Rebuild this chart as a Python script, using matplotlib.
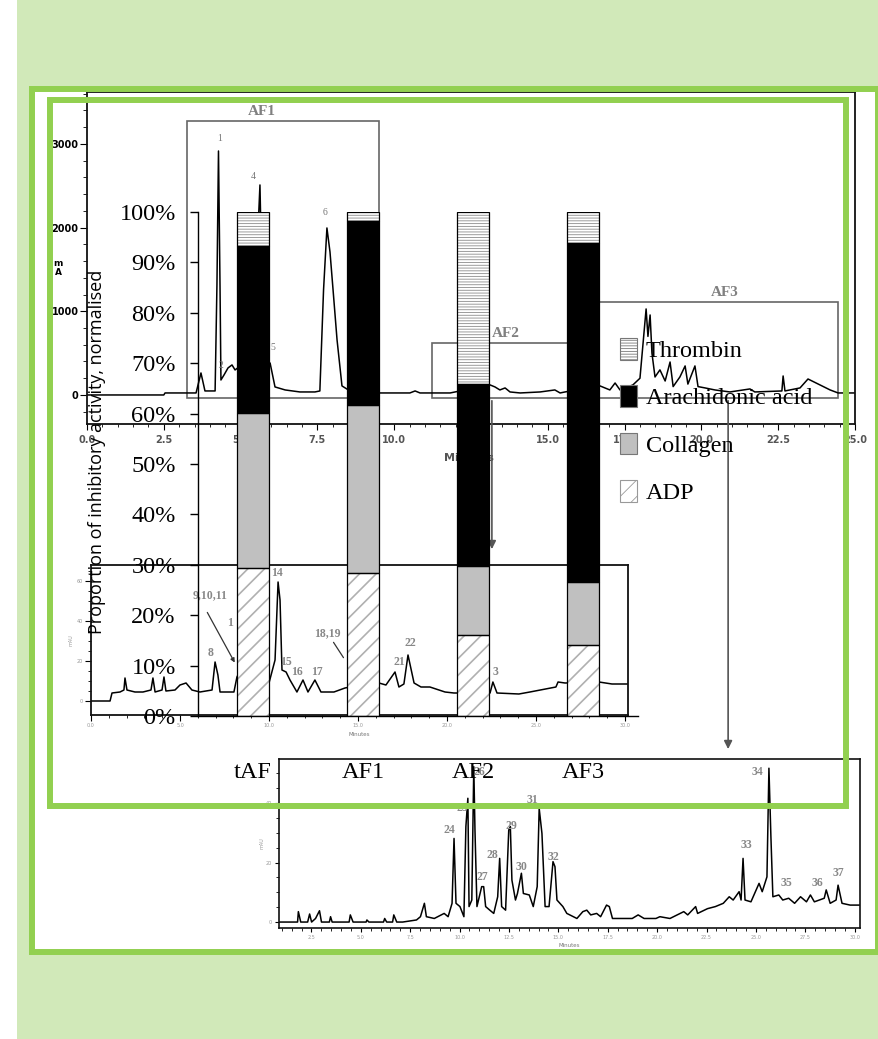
import numpy as np
import matplotlib.pyplot as plt
from matplotlib.patches import Rectangle, Patch

# --- stacked bar data: proportion of inhibitory activity (%) ---
fractions = ['tAF', 'AF1', 'AF2', 'AF3']
adp = [29.4, 28.4, 16.1, 14.1]
collagen = [30.7, 33.3, 13.7, 12.5]
arachidonic = [33.2, 36.5, 36.1, 67.2]
thrombin = [6.7, 1.8, 34.1, 6.2]
pct_ticks = [0, 10, 20, 30, 40, 50, 60, 70, 80, 90, 100]

# --- chromatogram of total fraction (minutes, mAU) ---
top_t = [0.0, 2.5, 2.54, 3.55, 3.71, 3.84, 4.17, 4.23, 4.28, 4.33, 4.36, 4.46, 4.59, 4.72, 4.82,
         5.0, 5.31, 5.5, 5.63, 5.72, 5.89, 5.96, 6.12, 6.45, 6.93, 7.42, 7.58, 7.70, 7.81, 7.91,
         8.01, 8.14, 8.30, 8.56, 9.54, 10.51, 10.68, 10.84, 11.17, 11.82, 13.12, 13.28, 13.44,
         13.61, 13.77, 14.10, 14.75, 15.23, 15.40, 15.56, 16.70, 17.02, 17.19, 17.35, 17.77,
         18.00, 18.20, 18.26, 18.33, 18.39, 18.49, 18.65, 18.82, 18.98, 19.08, 19.30, 19.47,
         19.56, 19.79, 19.89, 20.12, 20.44, 20.93, 21.58, 21.74, 22.62, 22.66, 22.72, 23.21,
         23.47, 23.86, 24.19, 24.45, 25.0]
top_mau = [0, 0, 24, 24, 263, 48, 48, 1315, 2916, 1300, 179, 239, 323, 359, 299,
           350, 600, 1400, 2510, 900, 300, 382, 96, 60, 36, 36, 48, 1255, 1996, 1709,
           1255, 657, 108, 48, 24, 24, 48, 24, 24, 24, 120, 96, 60,
           84, 36, 24, 36, 60, 24, 36, 108, 60, 143, 60, 120,
           200, 1028, 700, 956, 500, 215, 300, 167, 394, 100, 215, 347,
           130, 347, 100, 84, 60, 36, 72, 36, 48, 227, 48, 84,
           191, 120, 60, 24, 24]
top_xticks = [0, 2.5, 5, 7.5, 10, 12.5, 15, 17.5, 20, 22.5, 25]
top_xlabels = ['0.0', '2.5', '5.0', '7.5', '10.0', '12.5', '15.0', '17.5', '20.0', '22.5', '25.0']
top_peaks = [('1', 4.33, 3071), ('4', 5.40, 2617), ('6', 7.75, 2175), ('5', 6.05, 562), ('2', 4.36, 358)]
# collected fraction windows: (name, start, end, height, label x)
windows = [('AF1', 3.26, 9.51, 3274, 5.70), ('AF2', 11.23, 16.37, 621, 13.64),
           ('AF3', 16.37, 24.45, 1111, 20.77)]

# --- chromatogram of AF2 ---
mid_t = [0, 1.07, 1.18, 1.63, 1.85, 1.91, 2.02, 2.47, 2.92, 3.37, 3.48, 3.60, 3.99, 4.10, 4.21,
         4.72, 5.0, 5.34, 5.67, 6.12, 6.80, 6.97, 7.13, 7.25, 8.03, 8.20, 8.65, 9.38, 10.0,
         10.34, 10.51, 10.62, 10.73, 10.96, 11.18, 11.57, 11.91, 12.19, 12.58, 12.92, 13.65,
         14.27, 15.11, 16.18, 16.57, 17.08, 17.30, 17.58, 17.81, 18.15, 18.54, 19.04, 19.89,
         20.39, 22.42, 22.58, 22.81, 24.04, 24.66, 26.12, 26.24, 26.63, 28.54, 29.27, 30.17]
mid_mau = [0, 0, 4, 4.5, 5.5, 11.5, 5.5, 4.5, 4.5, 5.5, 11.5, 4.5, 5.5, 12, 5,
           5.5, 8, 9, 5.5, 4.5, 5.5, 19.5, 13, 4.5, 4.5, 12, 20, 15, 9,
           20.5, 59.5, 50.5, 15.5, 14.5, 10.5, 4.5, 10.5, 4.5, 10.5, 4.5, 4.5,
           6.5, 8, 9, 8, 14.5, 7, 8.5, 23, 9, 7, 7, 4.5,
           4, 4, 9.5, 4, 3.5, 4.5, 7, 9.5, 9, 9.5, 8.5, 8.5]
mid_peaks = [('8', 6.69, 24), ('9,10,11', 6.69, 53), ('1', 7.81, 39), ('14', 10.45, 64),
             ('15', 10.96, 19.5), ('16', 11.57, 14.5), ('17', 12.7, 14.5), ('18,19', 13.26, 34),
             ('21', 17.3, 19.5), ('22', 17.92, 29), ('3', 22.7, 14.5)]

# --- chromatogram of AF3 ---
bot_t = [0.86, 1.80, 1.84, 1.96, 2.31, 2.41, 2.51, 2.71, 2.91, 3.01, 3.41, 3.47, 3.55, 4.41,
         4.47, 4.61, 5.27, 5.31, 5.41, 6.15, 6.21, 6.31, 6.61, 6.67, 6.82, 7.12, 7.82, 8.02,
         8.22, 8.32, 8.72, 9.22, 9.42, 9.62, 9.72, 9.82, 10.02, 10.22, 10.32, 10.42, 10.48,
         10.62, 10.72, 10.78, 10.88, 11.12, 11.22, 11.32, 11.53, 11.73, 11.93, 12.03, 12.13,
         12.33, 12.49, 12.57, 12.65, 12.83, 12.93, 13.13, 13.23, 13.53, 13.73, 13.93, 14.03,
         14.17, 14.33, 14.53, 14.73, 14.83, 14.93, 15.23, 15.43, 15.94, 16.24, 16.44, 16.64,
         16.94, 17.14, 17.44, 17.58, 17.74, 18.74, 19.04, 19.34, 19.94, 20.14, 20.65, 21.35,
         21.55, 21.95, 22.05, 22.55, 22.95, 23.35, 23.65, 23.85, 24.15, 24.25, 24.35, 24.45,
         24.75, 25.16, 25.32, 25.56, 25.66, 25.76, 25.86, 26.16, 26.36, 26.66, 26.96, 27.26,
         27.56, 27.76, 27.96, 28.46, 28.56, 28.76, 29.06, 29.16, 29.36, 29.77, 30.27]
bot_mau = [0, 0, 3.5, 0, 0, 2.7, 0, 1.2, 3.8, 0, 0, 1.8, 0, 0,
           2.4, 0, 0, 0.7, 0, 0, 1.2, 0, 0, 2.4, 0, 0, 0.7, 1.8,
           6.3, 1.8, 1.2, 2.9, 1.8, 6.3, 28.1, 6.3, 5.2, 1.8, 32.1, 41.6, 5.2,
           7.4, 52.2, 30.9, 5.2, 11.9, 11.9, 5.2, 4.0, 2.9, 8.5, 21.4, 5.2,
           4.0, 30.9, 32.1, 14.1, 7.4, 9.6, 16.4, 9.6, 9.1, 5.2, 11.9, 38.2,
           29.8, 5.2, 5.2, 20.3, 18.6, 7.4, 5.2, 2.9, 1.2, 3.5, 4.0, 2.4,
           2.9, 1.8, 5.7, 5.2, 1.2, 1.2, 2.4, 1.2, 1.2, 1.8, 1.2, 3.5,
           2.4, 5.2, 2.9, 4.5, 5.2, 6.3, 8.5, 7.4, 10.2, 7.4, 21.4, 7.4,
           6.8, 13.0, 10.2, 15.2, 51.7, 28.7, 8.5, 9.1, 7.4, 8.0, 6.3, 8.5,
           6.8, 9.1, 6.8, 8.0, 10.8, 6.3, 7.4, 12.4, 6.3, 5.7, 5.7]
bot_xticks = [2.5, 5, 7.5, 10, 12.5, 15, 17.5, 20, 22.5, 25, 27.5, 30]
bot_peaks = [('24', 9.47, 30.9), ('25', 10.13, 38.3), ('26', 11.0, 50.4), ('27', 11.14, 15.1),
             ('28', 11.65, 22.5), ('29', 12.61, 32.3), ('30', 13.11, 18.5), ('31', 13.67, 41.0),
             ('32', 14.73, 21.8), ('33', 24.5, 25.9), ('34', 25.06, 50.4), ('35', 26.53, 13.1),
             ('36', 28.1, 13.1), ('37', 29.16, 16.5)]

W, H = 879, 1039
fig = plt.figure(figsize=(W / 100, H / 100), dpi=100)
SERIF = 'Liberation Serif'
GREEN = '#92d050'


def px_axes(x0, y0, x1, y1, **kw):
    # axes placed by pixel box of the picture (y measured from top)
    return fig.add_axes([x0 / W, 1 - y1 / H, (x1 - x0) / W, (y1 - y0) / H], **kw)


def px_rect(x0, y0, x1, y1, **kw):
    return Rectangle((x0 / W, 1 - y1 / H), (x1 - x0) / W, (y1 - y0) / H,
                     transform=fig.transFigure, **kw)


# slide background and green frames
fig.add_artist(px_rect(17, 0, W, H, facecolor='#d1e9b9', edgecolor='none', zorder=-10))
fig.add_artist(px_rect(32, 89, 878, 952, facecolor='white', edgecolor='none', zorder=-9))
fig.add_artist(px_rect(32, 89, 878, 952, fill=False, edgecolor=GREEN, lw=4.3, zorder=20))
fig.add_artist(px_rect(50, 100, 846, 806, fill=False, edgecolor=GREEN, lw=4.3, zorder=20))


def chrom_style(ax, lw=1.0):
    ax.set_facecolor('none')
    for s in ax.spines.values():
        s.set_linewidth(lw)
        s.set_color('#111111')


# ---- top chromatogram ----
ax1 = px_axes(87, 92, 855, 424)
chrom_style(ax1, 1.3)
ax1.plot(top_t, top_mau, color='black', lw=1.1)
ax1.set_xlim(0, 25)
ax1.set_ylim(-347, 3621)
ax1.set_xticks(top_xticks, top_xlabels)
ax1.set_xticks(np.arange(0, 25.01, 0.5), minor=True)
ax1.set_yticks([0, 1000, 2000, 3000], ['0', '1000', '2000', '3000'])
ax1.set_yticks(np.arange(-200, 3601, 200), minor=True)
ax1.tick_params(axis='x', which='major', length=4, labelsize=7, labelcolor='#555555', pad=4)
ax1.tick_params(axis='x', which='minor', length=2)
ax1.tick_params(axis='y', which='major', length=5, labelsize=7, pad=1)
ax1.tick_params(axis='y', which='minor', length=3)
for lab in ax1.get_xticklabels() + ax1.get_yticklabels():
    lab.set_fontweight('bold')
for name, t0, t1, h, tx in windows:
    ax1.add_patch(Rectangle((t0, -36), t1 - t0, h + 36, fill=False, edgecolor='#666666', lw=1.2))
    ax1.text(tx, h + 40, name, family=SERIF, weight='bold',
             fontsize=11, color='#808080', ha='center', va='bottom')
for lab, t, v in top_peaks:
    ax1.text(t, v, lab, family=SERIF, fontsize=7, color='#777777', ha='center', va='center')
ax1.annotate('', xy=(13.18, -1876), xytext=(13.18, -36), annotation_clip=False,
             arrowprops=dict(arrowstyle='-|>', color='#555555', lw=1.2, mutation_scale=12))
ax1.annotate('', xy=(20.87, -4266), xytext=(20.87, -36), annotation_clip=False,
             arrowprops=dict(arrowstyle='-|>', color='#555555', lw=1.2, mutation_scale=12))
fig.text(58 / W, 1 - 268 / H, 'm\nA', fontsize=6.5, weight='bold', ha='center', va='center',
         linespacing=0.9)
fig.text(469 / W, 1 - 458 / H, 'Minutes', fontsize=8, weight='bold', color='#555555',
         ha='center', va='center')

# ---- middle chromatogram (AF2) ----
ax2 = px_axes(91, 565, 628, 715)
chrom_style(ax2, 1.3)
ax2.plot(mid_t, mid_mau, color='black', lw=1.1)
ax2.set_xlim(0, 30.17)
ax2.set_ylim(-7, 68)
ax2.set_xticks(np.arange(0, 30.1, 5), ['0.0', '5.0', '10.0', '15.0', '20.0', '25.0', '30.0'])
ax2.set_xticks(np.arange(0, 30.1, 1), minor=True)
ax2.set_yticks([0, 20, 40, 60], ['0', '20', '40', '60'])
ax2.set_yticks(np.arange(0, 66, 5), minor=True)
ax2.tick_params(which='major', length=4, labelsize=3.5, labelcolor='#999999', pad=2)
ax2.tick_params(which='minor', length=2)
ax2.set_xlabel('Minutes', fontsize=4, color='#777777', labelpad=3)
ax2.set_ylabel('mAU', fontsize=3.5, color='#999999', labelpad=2)
for lab, t, v in mid_peaks:
    ax2.text(t, v, lab, family=SERIF, fontsize=8.5, weight='bold', color='#888888',
             ha='center', va='center')
ax2.annotate('', xy=(8.15, 18), xytext=(6.46, 45.5),
             arrowprops=dict(arrowstyle='-|>', color='#333333', lw=0.9, mutation_scale=6))
ax2.annotate('', xy=(14.27, 20.5), xytext=(13.54, 30.5),
             arrowprops=dict(arrowstyle='-', color='#333333', lw=0.9))

# ---- bottom chromatogram (AF3) ----
ax3 = px_axes(279, 759, 860, 928)
chrom_style(ax3, 1.2)
ax3.plot(bot_t, bot_mau, color='black', lw=1.1)
ax3.set_xlim(0.86, 30.27)
ax3.set_ylim(-2, 54.8)
ax3.set_xticks(bot_xticks, [f'{v:.1f}' for v in bot_xticks])
ax3.set_xticks(np.arange(1, 30.3, 0.5), minor=True)
ax3.set_yticks([0, 20, 40], ['0', '20', '40'])
ax3.set_yticks(np.arange(0, 54, 5), minor=True)
ax3.tick_params(which='major', length=3, labelsize=3.5, labelcolor='#999999', pad=2)
ax3.tick_params(which='minor', length=2)
ax3.set_xlabel('Minutes', fontsize=4, color='#777777', labelpad=2)
ax3.set_ylabel('mAU', fontsize=3.5, color='#999999', labelpad=1)
for lab, t, v in bot_peaks:
    ax3.text(t, v, lab, family=SERIF, fontsize=8.5, weight='bold', color='#888888',
             ha='center', va='center')

# ---- stacked bar chart overlay ----
ax = px_axes(198, 212, 638, 716, zorder=5)
ax.set_facecolor('none')
x = np.arange(len(fractions))
wd = 0.29
b_col = np.array(adp)
b_aa = b_col + np.array(collagen)
b_thr = b_aa + np.array(arachidonic)

plt.rcParams['hatch.linewidth'] = 1.2
ax.bar(x, adp, wd, color='white', edgecolor='#b0b0b0', hatch='//', lw=0)
ax.bar(x, collagen, wd, bottom=b_col, color='#c0c0c0', lw=0)
ax.bar(x, arachidonic, wd, bottom=b_aa, color='black', lw=0)
plt.rcParams['hatch.linewidth'] = 0.6
ax.bar(x, thrombin, wd, bottom=b_thr, color='white', edgecolor='#8c8c8c', hatch='------', lw=0)
for vals, bot in [(adp, 0), (collagen, b_col), (arachidonic, b_aa), (thrombin, b_thr)]:
    ax.bar(x, vals, wd, bottom=bot, fill=False, edgecolor='black', lw=0.9)

ax.set_xlim(-0.5, 3.5)
ax.set_ylim(0, 100)
ax.set_yticks(pct_ticks, [f'{v}%' for v in pct_ticks])
ax.set_xticks(x, fractions)
for s in ['top', 'right']:
    ax.spines[s].set_visible(False)
ax.spines['left'].set_linewidth(1)
ax.spines['bottom'].set_linewidth(1)
ax.tick_params(axis='y', length=6, width=1, pad=10, labelsize=17.5)
ax.tick_params(axis='x', length=0, pad=33, labelsize=17.5)
for lab in ax.get_xticklabels() + ax.get_yticklabels():
    lab.set_family(SERIF)

handles = [Patch(facecolor='white', edgecolor='#777777', hatch='------', lw=0.8),
           Patch(facecolor='black', edgecolor='#777777', lw=0.8),
           Patch(facecolor='#c0c0c0', edgecolor='#777777', lw=0.8),
           Patch(facecolor='white', edgecolor='#999999', hatch='//', lw=0.8)]
ax.legend(handles, ['Thrombin', 'Arachidonic acid', 'Collagen', 'ADP'],
          loc='upper left', bbox_to_anchor=(620 / W, 1 - 338 / H), bbox_transform=fig.transFigure,
          frameon=False, prop={'family': SERIF, 'size': 17.5}, handlelength=0.7, handleheight=1.0,
          handletextpad=0.35, labelspacing=0.95, borderpad=0, borderaxespad=0)

fig.text(97 / W, 1 - 452 / H, 'Proportion of inhibitory activity, normalised', rotation=90,
         ha='center', va='center', fontsize=13, family='Open Sans', zorder=6)

fig.savefig('out.png', dpi=100)
